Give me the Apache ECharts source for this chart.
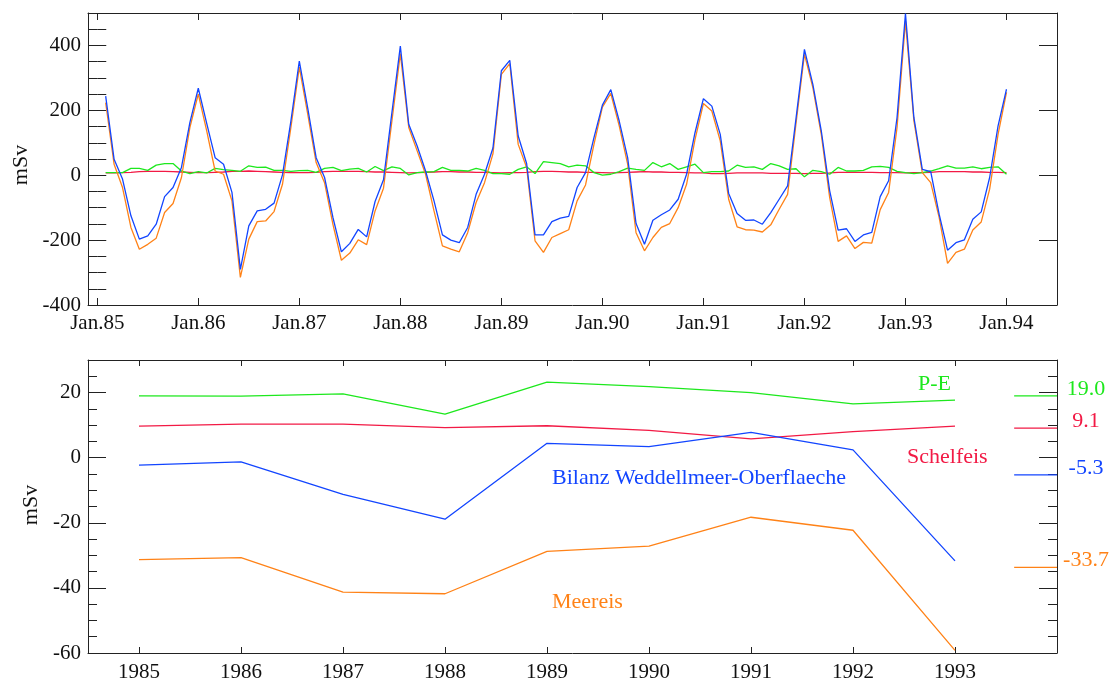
<!DOCTYPE html>
<html>
<head>
<meta charset="utf-8">
<title>Weddellmeer Oberflaechenbilanz</title>
<script src="https://cdn.jsdelivr.net/npm/echarts@6/dist/echarts.min.js"></script>
<style>
  html, body { margin: 0; padding: 0; background: #fff; }
  #chart { width: 1114px; height: 686px; }
</style>
</head>
<body>
<div id="chart"></div>
<script>
// ---- monthly fluxes (mSv), Feb.85 .. Jan.94, x = months after Jan.85 ----
const monthTickLabels = ['Jan.85', 'Jan.86', 'Jan.87', 'Jan.88', 'Jan.89', 'Jan.90', 'Jan.91', 'Jan.92', 'Jan.93', 'Jan.94'];

const monthlyBalance = [
  244, 49, -12, -125, -197, -187, -151, -66, -38, 24, 162, 268,
  160, 54, 34, -53, -290, -156, -110, -105, -86, 1, 167, 352,
  207, 54, -7, -131, -236, -210, -167, -190, -81, -14, 193, 398,
  157, 90, 13, -79, -184, -200, -208, -161, -59, 3, 84, 322,
  354, 121, 36, -184, -184, -143, -132, -127, -38, 8, 116, 216,
  264, 167, 54, -149, -213, -139, -122, -107, -74, 3, 131, 236,
  213, 126, -56, -118, -139, -138, -151, -115, -74, -33, 175, 388,
  280, 137, -48, -169, -165, -204, -184, -176, -66, -17, 178, 498,
  178, 18, 11, -120, -231, -208, -199, -136, -113, -7, 152, 265
];
const monthlySeaIce = [
  224, 34, -38, -161, -228, -213, -194, -115, -87, -7, 147, 250,
  137, 13, 3, -79, -315, -197, -143, -141, -112, -28, 147, 333,
  188, 39, -23, -152, -262, -240, -199, -214, -110, -40, 167, 375,
  147, 75, 3, -110, -218, -228, -236, -177, -84, -23, 66, 311,
  344, 95, 24, -202, -238, -192, -180, -168, -79, -30, 95, 210,
  252, 152, 34, -177, -233, -192, -161, -149, -100, -28, 110, 221,
  198, 106, -74, -159, -168, -169, -175, -153, -105, -59, 160, 373,
  270, 126, -69, -204, -187, -226, -207, -209, -106, -53, 147, 475,
  168, 8, -23, -130, -272, -238, -228, -169, -144, -43, 126, 255
];
const monthlyPE = [
  8, 8, 8, 21, 21, 15, 31, 36, 36, 13, 5, 11,
  7, 21, 17, 15, 12, 29, 24, 25, 15, 15, 12, 14,
  15, 9, 21, 24, 14, 19, 21, 10, 27, 14, 26, 21,
  1, 8, 10, 11, 24, 15, 15, 13, 21, 15, 5, 5,
  3, 18, 26, 5, 42, 39, 36, 26, 31, 29, 8, 0,
  3, 11, 22, 18, 15, 39, 26, 36, 18, 26, 34, 8,
  11, 11, 13, 31, 24, 26, 18, 36, 29, 18, 20, -5,
  15, 11, 3, 24, 13, 13, 15, 26, 27, 24, 12, 8,
  5, 8, 13, 20, 29, 22, 22, 26, 20, 24, 26, 3
];
const monthlyShelf = [
  7, 7, 8, 9, 11, 12, 12, 12, 11, 10, 9, 8,
  8, 9, 10, 12, 12, 13, 12, 11, 10, 9, 8, 8,
  8, 9, 11, 12, 12, 12, 12, 11, 10, 10, 9, 8,
  7, 8, 9, 10, 11, 11, 10, 10, 9, 9, 8, 7,
  8, 8, 9, 11, 12, 12, 11, 10, 10, 9, 9, 8,
  7, 8, 9, 10, 11, 10, 10, 9, 9, 8, 7, 7,
  5, 5, 6, 7, 7, 7, 7, 6, 6, 6, 6, 5,
  6, 6, 7, 9, 9, 9, 9, 9, 8, 8, 8, 7,
  8, 8, 9, 11, 11, 11, 11, 10, 10, 9, 9, 8
];

// ---- annual means (mSv) ----
const years = [1985, 1986, 1987, 1988, 1989, 1990, 1991, 1992, 1993];
const annualPE = [19.0, 18.9, 19.6, 13.4, 23.2, 21.8, 20.0, 16.5, 17.7];
const annualShelf = [9.7, 10.3, 10.3, 9.2, 9.8, 8.4, 5.8, 8.0, 9.7];
const annualBalance = [-2.3, -1.3, -11.3, -18.9, 4.4, 3.4, 7.8, 2.4, -31.7];
const annualSeaIce = [-31.3, -30.7, -41.3, -41.8, -28.8, -27.2, -18.3, -22.3, -59.2];

// ---- period means shown at the right edge ----
const meanPE = 19.0;
const meanShelf = 9.1;
const meanBalance = -5.3;
const meanSeaIce = -33.7;

const topYTicks = [-400, -200, 0, 200, 400];
const topYMinor = [];
for (let v = -400; v <= 500; v += 50) topYMinor.push(v);
const bottomYTicks = [-60, -40, -20, 0, 20];
const bottomYMinor = [];
for (let v = -60; v <= 30; v += 5) bottomYMinor.push(v);
const monthTickValues = monthTickLabels.map((_, i) => i * 12);

const C = {
  blue: '#1245ff',
  orange: '#ff8217',
  green: '#1de81d',
  red: '#f21a45',
  ink: '#111'
};
const FONT = '"Liberation Serif", "DejaVu Serif", serif';

const toMonthly = arr => arr.map((v, i) => [i + 1, v]);
const toAnnual = arr => arr.map((v, i) => [years[i], v]);

const axisLine = { show: true, onZero: false, lineStyle: { color: '#222', width: 1 } };
const tickLine = { color: '#222', width: 1 };

function yAxesFor(gridIndex, min, max, majors, minors) {
  const base = {
    type: 'value', gridIndex, min, max,
    splitLine: { show: false }
  };
  return [
    Object.assign({}, base, {
      position: 'left',
      axisLine,
      axisTick: { show: true, inside: true, length: 18, customValues: majors, lineStyle: tickLine },
      axisLabel: {
        show: true, customValues: majors, margin: 7,
        color: C.ink, fontFamily: FONT, fontSize: 21
      }
    }),
    Object.assign({}, base, {
      position: 'left',
      axisLine: { show: false },
      axisTick: { show: true, inside: true, length: 9, customValues: minors, lineStyle: tickLine },
      axisLabel: { show: false }
    }),
    Object.assign({}, base, {
      position: 'right',
      axisLine,
      axisTick: { show: true, inside: true, length: 18, customValues: majors, lineStyle: tickLine },
      axisLabel: { show: false }
    }),
    Object.assign({}, base, {
      position: 'right',
      axisLine: { show: false },
      axisTick: { show: true, inside: true, length: 9, customValues: minors, lineStyle: tickLine },
      axisLabel: { show: false }
    })
  ];
}

const yAxes = [].concat(
  yAxesFor(0, -400, 500, topYTicks, topYMinor),
  yAxesFor(1, -60, 30, bottomYTicks, bottomYMinor)
);

const xAxes = [
  {
    type: 'value', gridIndex: 0, min: -1.1, max: 114, position: 'bottom',
    splitLine: { show: false }, axisLine,
    axisTick: { show: true, inside: true, length: 7, customValues: monthTickValues, lineStyle: tickLine },
    axisLabel: {
      show: true, customValues: monthTickValues, margin: 8,
      color: C.ink, fontFamily: FONT, fontSize: 21,
      formatter: v => monthTickLabels[Math.round(v / 12)]
    }
  },
  {
    type: 'value', gridIndex: 0, min: -1.1, max: 114, position: 'top',
    splitLine: { show: false }, axisLine,
    axisTick: { show: true, inside: true, length: 7, customValues: monthTickValues, lineStyle: tickLine },
    axisLabel: { show: false }
  },
  {
    type: 'value', gridIndex: 1, min: 1984.5, max: 1994, position: 'bottom',
    splitLine: { show: false }, axisLine,
    axisTick: { show: true, inside: true, length: 6, customValues: years, lineStyle: tickLine },
    axisLabel: {
      show: true, customValues: years, margin: 9,
      color: C.ink, fontFamily: FONT, fontSize: 21,
      formatter: v => String(v)
    }
  },
  {
    type: 'value', gridIndex: 1, min: 1984.5, max: 1994, position: 'top',
    splitLine: { show: false }, axisLine,
    axisTick: { show: true, inside: true, length: 6, customValues: years, lineStyle: tickLine },
    axisLabel: { show: false }
  }
];

function line(name, data, color, xi, yi, extra) {
  return Object.assign({
    name, type: 'line', data, xAxisIndex: xi, yAxisIndex: yi,
    symbol: 'none', smooth: false, silent: true, animation: false,
    lineStyle: { color, width: 1.3 }
  }, extra || {});
}

function meanMarker(name, value, color) {
  return line(name, [[1993.58, value], [1994, value]], color, 2, 4, {
    clip: false,
    label: { show: false },
    endLabel: {
      show: true,
      formatter: p => p.value[1].toFixed(1),
      color, fontFamily: FONT, fontSize: 22,
      align: 'center', distance: 0, offset: [29, -7]
    }
  });
}

const series = [
  line('Schelfeis', toMonthly(monthlyShelf), C.red, 0, 0),
  line('P-E', toMonthly(monthlyPE), C.green, 0, 0),
  line('Meereis', toMonthly(monthlySeaIce), C.orange, 0, 0),
  line('Bilanz', toMonthly(monthlyBalance), C.blue, 0, 0),

  line('P-E Jahresmittel', toAnnual(annualPE), C.green, 2, 4),
  line('Schelfeis Jahresmittel', toAnnual(annualShelf), C.red, 2, 4),
  line('Bilanz Jahresmittel', toAnnual(annualBalance), C.blue, 2, 4),
  line('Meereis Jahresmittel', toAnnual(annualSeaIce), C.orange, 2, 4),

  meanMarker('P-E Mittel', meanPE, C.green),
  meanMarker('Schelfeis Mittel', meanShelf, C.red),
  meanMarker('Bilanz Mittel', meanBalance, C.blue),
  meanMarker('Meereis Mittel', meanSeaIce, C.orange)
];

const textStyle = (text, color) => ({ text, fill: color, font: '22px ' + FONT, textVerticalAlign: 'middle' });

const option = {
  backgroundColor: '#fff',
  animation: false,
  grid: [
    { left: 88, top: 13, width: 969, height: 292 },
    { left: 88, top: 360, width: 969, height: 293 }
  ],
  xAxis: xAxes,
  yAxis: yAxes,
  series,
  graphic: [
    // series names written inside the lower panel
    { type: 'text', x: 918, y: 384, style: textStyle('P-E', C.green) },
    { type: 'text', x: 907, y: 457, style: textStyle('Schelfeis', C.red) },
    { type: 'text', x: 552, y: 478, style: textStyle('Bilanz Weddellmeer-Oberflaeche', C.blue) },
    { type: 'text', x: 552, y: 602, style: textStyle('Meereis', C.orange) },
    // unit labels, one per panel
    { type: 'text', x: 21, y: 165, rotation: Math.PI / 2, style: Object.assign(textStyle('mSv', C.ink), { textAlign: 'center' }) },
    { type: 'text', x: 31, y: 505, rotation: Math.PI / 2, style: Object.assign(textStyle('mSv', C.ink), { textAlign: 'center' }) }
  ]
};

const chart = echarts.init(document.getElementById('chart'), null, { renderer: 'canvas' });
chart.setOption(option);
</script>
</body>
</html>
